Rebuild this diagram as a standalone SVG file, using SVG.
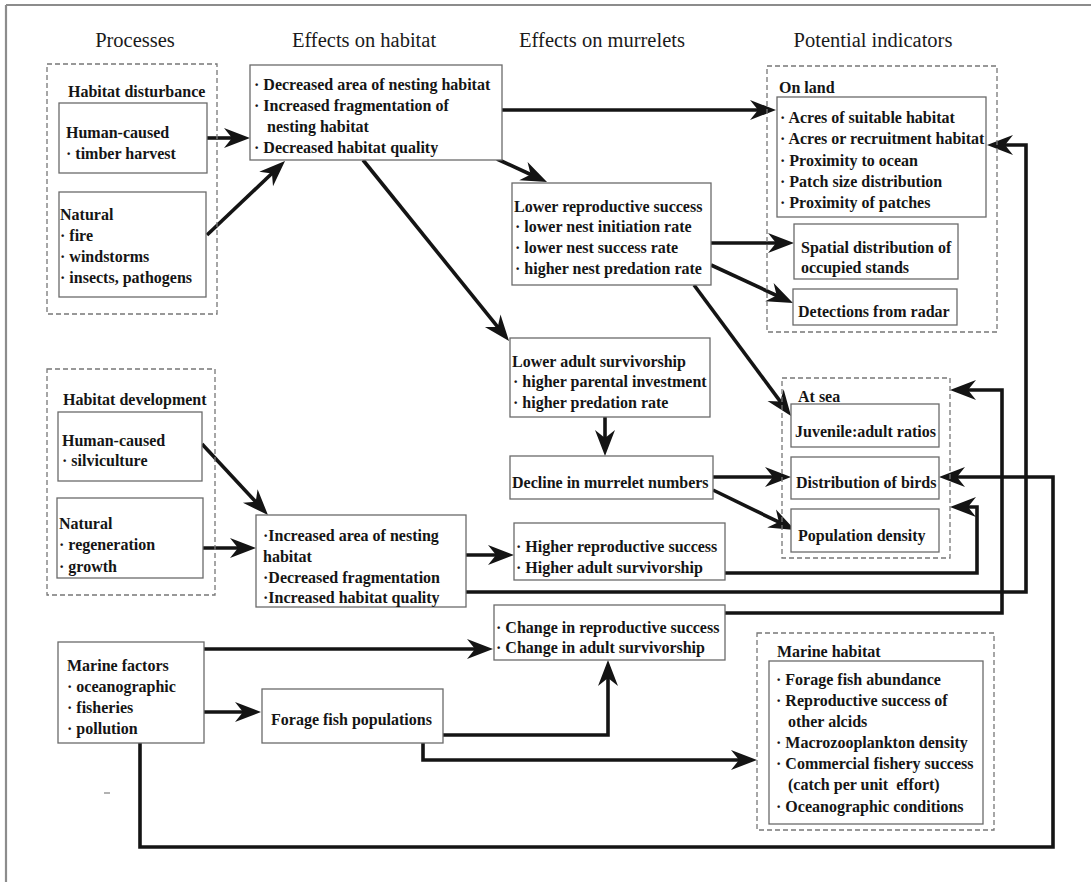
<svg xmlns="http://www.w3.org/2000/svg" width="1091" height="882" viewBox="0 0 1091 882">
<style>
  .hdr { font-family: "Liberation Serif", "Times New Roman", serif; font-size: 20.5px; fill: #1a1a1a; text-anchor: middle; }
  .t { font-family: "Liberation Serif", "Times New Roman", serif; font-size: 16px; font-weight: bold; fill: #151515; }
  .pre { white-space: pre; }
  .box { fill: #ffffff; stroke: #6a6a6a; stroke-width: 1.3; }
  .grp { fill: none; stroke: #777777; stroke-width: 1.3; stroke-dasharray: 5 3; }
  .con { fill: none; stroke: #141414; stroke-width: 3.6; stroke-linejoin: miter; }
  .frame { stroke: #8c8c8c; stroke-width: 2.2; fill: none; }
</style>
<defs>
  <marker id="ah" markerUnits="userSpaceOnUse" markerWidth="26" markerHeight="20" refX="14" refY="10" orient="auto" overflow="visible">
    <path d="M0,0 L26,10 L0,20 L8,10 z" fill="#141414"/>
  </marker>
</defs>
<rect x="0" y="0" width="1091" height="882" fill="#ffffff"/>
<g id="frame">
  <line class="frame" x1="6" y1="5" x2="1091" y2="5"/>
  <line class="frame" x1="6" y1="5" x2="6" y2="882"/>
  <line x1="104" y1="793" x2="110" y2="793" stroke="#999" stroke-width="1.5"/>
</g>
<g id="headers">
  <text class="hdr" x="135" y="47">Processes</text>
  <text class="hdr" x="364" y="47">Effects on habitat</text>
  <text class="hdr" x="602" y="47">Effects on murrelets</text>
  <text class="hdr" x="873" y="47">Potential indicators</text>
</g>
<g id="connectors">
  <path class="con" marker-end="url(#ah)" d="M207,138 L238,138"/>
  <path class="con" marker-end="url(#ah)" d="M207,235 L276.3,169.3"/>
  <path class="con" marker-end="url(#ah)" d="M502,110 L764,110"/>
  <path class="con" marker-end="url(#ah)" d="M497,159 L536.1,177"/>
  <path class="con" marker-end="url(#ah)" d="M363,160 L501.5,331.7"/>
  <path class="con" marker-end="url(#ah)" d="M711,243 L782,243"/>
  <path class="con" marker-end="url(#ah)" d="M711,265 L782.1,298"/>
  <path class="con" marker-end="url(#ah)" d="M694,285 L783.9,406.4"/>
  <path class="con" marker-end="url(#ah)" d="M605,417 L605,444"/>
  <path class="con" marker-end="url(#ah)" d="M713,477 L779,477"/>
  <path class="con" marker-end="url(#ah)" d="M713,490 L784.2,524.7"/>
  <path class="con" marker-end="url(#ah)" d="M202,444 L259.8,506.2"/>
  <path class="con" marker-end="url(#ah)" d="M203,548 L244,548"/>
  <path class="con" marker-end="url(#ah)" d="M466,555 L502,555"/>
  <path class="con" marker-end="url(#ah)" d="M466,592 L1026,592 L1026,145 L999,145"/>
  <path class="con" marker-end="url(#ah)" d="M725,573 L977,573 L977,507 L962,507"/>
  <path class="con" marker-end="url(#ah)" d="M725,613 L1002,613 L1002,390 L962,390"/>
  <path class="con" marker-end="url(#ah)" d="M204,649 L481,649"/>
  <path class="con" marker-end="url(#ah)" d="M204,712 L249,712"/>
  <path class="con" marker-end="url(#ah)" d="M443,735 L608,735 L608,672"/>
  <path class="con" marker-end="url(#ah)" d="M423,743 L423,760 L745,760"/>
  <path class="con" marker-end="url(#ah)" d="M140,743 L140,847 L1053,847 L1053,477 L951,477"/>
</g>

<g id="habitat-disturbance">
  <rect class="grp" x="47" y="64" width="170" height="250"/>
  <text class="t" x="68" y="97">Habitat disturbance</text>
</g>
<g id="dist-human">
  <rect class="box" x="59" y="103" width="148" height="70"/>
  <text class="t" x="66" y="138">Human-caused</text>
  <text class="t" x="66" y="159">· timber harvest</text>
</g>
<g id="dist-natural">
  <rect class="box" x="59" y="192" width="147" height="105"/>
  <text class="t" x="60" y="220">Natural</text>
  <text class="t" x="60" y="241">· fire</text>
  <text class="t" x="60" y="262">· windstorms</text>
  <text class="t" x="60" y="283">· insects, pathogens</text>
</g>
<g id="effects-decrease">
  <rect class="box" x="250" y="65" width="252" height="95"/>
  <text class="t" x="254" y="90">· Decreased area of nesting habitat</text>
  <text class="t" x="254" y="111">· Increased fragmentation of</text>
  <text class="t" x="267" y="132">nesting habitat</text>
  <text class="t" x="254" y="153">· Decreased habitat quality</text>
</g>

<g id="on-land">
  <rect class="grp" x="767" y="66" width="230" height="266"/>
  <text class="t" x="779" y="93">On land</text>
</g>
<g id="land-indicators">
  <rect class="box" x="777" y="97" width="209" height="120"/>
  <text class="t" x="780" y="123">· Acres of suitable habitat</text>
  <text class="t" x="780" y="144">· Acres or recruitment habitat</text>
  <text class="t" x="780" y="166">· Proximity to ocean</text>
  <text class="t" x="780" y="187">· Patch size distribution</text>
  <text class="t" x="780" y="208">· Proximity of patches</text>
</g>
<g id="spatial">
  <rect class="box" x="794" y="224" width="164" height="55"/>
  <text class="t" x="801" y="253">Spatial distribution of</text>
  <text class="t" x="801" y="273">occupied stands</text>
</g>
<g id="radar">
  <rect class="box" x="793" y="289" width="164" height="36"/>
  <text class="t" x="798" y="317">Detections from radar</text>
</g>

<g id="lower-repro">
  <rect class="box" x="512" y="183" width="199" height="102"/>
  <text class="t" x="514" y="212">Lower reproductive success</text>
  <text class="t" x="515" y="232">· lower nest initiation rate</text>
  <text class="t" x="515" y="253">· lower nest success rate</text>
  <text class="t" x="515" y="274">· higher nest predation rate</text>
</g>
<g id="lower-adult">
  <rect class="box" x="510" y="338" width="200" height="79"/>
  <text class="t" x="512" y="367">Lower adult survivorship</text>
  <text class="t" x="513" y="387">· higher parental investment</text>
  <text class="t" x="513" y="408">· higher predation rate</text>
</g>
<g id="decline">
  <rect class="box" x="510" y="456" width="203" height="43"/>
  <text class="t" x="512" y="488">Decline in murrelet numbers</text>
</g>

<g id="at-sea">
  <rect class="grp" x="782" y="378" width="168" height="180"/>
  <text class="t" x="798" y="402">At sea</text>
</g>
<g id="juvenile">
  <rect class="box" x="791" y="404" width="148" height="43"/>
  <text class="t" x="795" y="437">Juvenile:adult ratios</text>
</g>
<g id="distribution">
  <rect class="box" x="791" y="457" width="148" height="42"/>
  <text class="t" x="796" y="488">Distribution of birds</text>
</g>
<g id="pop-density">
  <rect class="box" x="791" y="509" width="148" height="43"/>
  <text class="t" x="798" y="541">Population density</text>
</g>

<g id="habitat-development">
  <rect class="grp" x="47" y="369" width="168" height="226"/>
  <text class="t" x="63" y="405">Habitat development</text>
</g>
<g id="dev-human">
  <rect class="box" x="58" y="412" width="144" height="69"/>
  <text class="t" x="62" y="446">Human-caused</text>
  <text class="t" x="62" y="466">· silviculture</text>
</g>
<g id="dev-natural">
  <rect class="box" x="57" y="498" width="146" height="80"/>
  <text class="t" x="59" y="529">Natural</text>
  <text class="t" x="59" y="550">· regeneration</text>
  <text class="t" x="59" y="572">· growth</text>
</g>
<g id="effects-increase">
  <rect class="box" x="256" y="515" width="210" height="92"/>
  <text class="t" x="263" y="541">·Increased area of nesting</text>
  <text class="t" x="263" y="562">habitat</text>
  <text class="t" x="263" y="583">·Decreased fragmentation</text>
  <text class="t" x="263" y="603">·Increased habitat quality</text>
</g>
<g id="higher-repro">
  <rect class="box" x="514" y="523" width="211" height="57"/>
  <text class="t" x="516" y="552">· Higher reproductive success</text>
  <text class="t" x="516" y="573">· Higher adult survivorship</text>
</g>
<g id="change">
  <rect class="box" x="494" y="605" width="231" height="55"/>
  <text class="t" x="496" y="633">· Change in reproductive success</text>
  <text class="t" x="496" y="653">· Change in adult survivorship</text>
</g>
<g id="marine-factors">
  <rect class="box" x="58" y="642" width="146" height="101"/>
  <text class="t" x="67" y="671">Marine factors</text>
  <text class="t" x="67" y="692">· oceanographic</text>
  <text class="t" x="67" y="713">· fisheries</text>
  <text class="t" x="67" y="734">· pollution</text>
</g>
<g id="forage-fish">
  <rect class="box" x="262" y="689" width="181" height="54"/>
  <text class="t" x="271" y="725">Forage fish populations</text>
</g>
<g id="marine-habitat">
  <rect class="grp" x="757" y="633" width="237" height="197"/>
  <text class="t" x="777" y="657">Marine habitat</text>
</g>
<g id="marine-indicators">
  <rect class="box" x="769" y="661" width="214" height="163"/>
  <text class="t" x="776" y="685">· Forage fish abundance</text>
  <text class="t" x="776" y="706">· Reproductive success of</text>
  <text class="t" x="788" y="727">other alcids</text>
  <text class="t" x="776" y="748">· Macrozooplankton density</text>
  <text class="t" x="776" y="769">· Commercial fishery success</text>
  <text class="t pre" x="788" y="790">(catch per unit  effort)</text>
  <text class="t" x="776" y="812">· Oceanographic conditions</text>
</g>
</svg>
